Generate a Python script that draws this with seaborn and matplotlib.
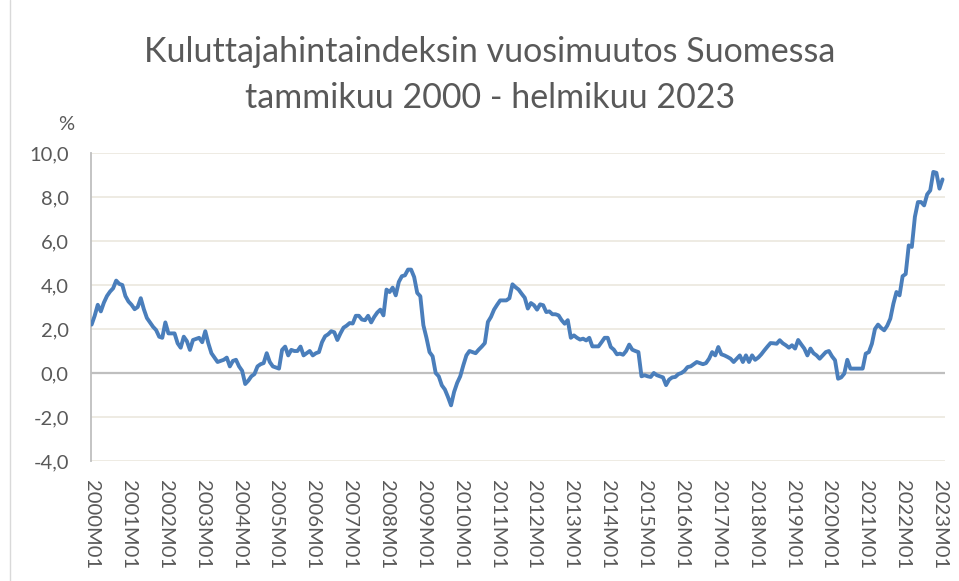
import numpy as np
import pandas as pd
import matplotlib.pyplot as plt
import seaborn as sns
from matplotlib.lines import Line2D

# Kuluttajahintaindeksin vuosimuutos (%), kuukausittain
y2000 = [2.2, 2.6, 3.1, 2.8, 3.2, 3.5, 3.7, 3.85, 4.2, 4.05, 4.0, 3.5]
y2001 = [3.25, 3.1, 2.9, 3.0, 3.4, 2.9, 2.5, 2.3, 2.1, 1.95, 1.65, 1.6]
y2002 = [2.3, 1.8, 1.8, 1.8, 1.35, 1.15, 1.65, 1.45, 1.05, 1.5, 1.55, 1.6]
y2003 = [1.4, 1.9, 1.35, 0.9, 0.7, 0.5, 0.55, 0.6, 0.7, 0.3, 0.55, 0.6]
y2004 = [0.3, 0.1, -0.5, -0.35, -0.15, -0.05, 0.3, 0.4, 0.45, 0.9, 0.5, 0.3]
y2005 = [0.25, 0.2, 1.05, 1.2, 0.8, 1.05, 1.0, 1.0, 1.2, 0.8, 0.9, 1.0]
y2006 = [0.8, 0.9, 0.95, 1.4, 1.67, 1.76, 1.9, 1.85, 1.5, 1.8, 2.06, 2.15]
y2007 = [2.27, 2.25, 2.6, 2.6, 2.43, 2.4, 2.6, 2.3, 2.55, 2.75, 2.88, 2.62]
y2008 = [3.79, 3.68, 3.88, 3.53, 4.14, 4.4, 4.44, 4.7, 4.7, 4.36, 3.64, 3.49]
y2009 = [2.17, 1.6, 0.95, 0.76, 0.0, -0.15, -0.56, -0.75, -1.09, -1.47, -0.86, -0.45]
y2010 = [-0.15, 0.35, 0.8, 1.0, 0.95, 0.9, 1.06, 1.2, 1.36, 2.32, 2.55, 2.88]
y2011 = [3.1, 3.3, 3.3, 3.3, 3.4, 4.03, 3.9, 3.79, 3.6, 3.42, 2.93, 3.18]
y2012 = [3.08, 2.88, 3.12, 3.08, 2.77, 2.8, 2.67, 2.67, 2.62, 2.4, 2.24, 2.4]
y2013 = [1.6, 1.71, 1.6, 1.52, 1.56, 1.48, 1.6, 1.21, 1.21, 1.21, 1.4, 1.6]
y2014 = [1.6, 1.18, 1.06, 0.85, 0.88, 0.83, 1.0, 1.29, 1.06, 1.0, 0.95, -0.15]
y2015 = [-0.1, -0.15, -0.18, 0.0, -0.1, -0.15, -0.2, -0.55, -0.3, -0.2, -0.18, -0.05]
y2016 = [0.0, 0.1, 0.27, 0.3, 0.4, 0.5, 0.45, 0.4, 0.45, 0.65, 0.95, 0.8]
y2017 = [1.18, 0.85, 0.8, 0.73, 0.65, 0.5, 0.65, 0.8, 0.5, 0.8, 0.5, 0.8]
y2018 = [0.6, 0.7, 0.85, 1.03, 1.2, 1.36, 1.35, 1.33, 1.49, 1.35, 1.26, 1.15]
y2019 = [1.26, 1.11, 1.5, 1.3, 1.11, 0.8, 1.11, 0.9, 0.8, 0.65, 0.8, 0.95]
y2020 = [1.0, 0.76, 0.58, -0.26, -0.2, -0.03, 0.6, 0.2, 0.2, 0.2, 0.2, 0.2]
y2021 = [0.88, 0.95, 1.33, 2.0, 2.2, 2.05, 1.94, 2.15, 2.47, 3.15, 3.68, 3.53]
y2022 = [4.4, 4.5, 5.8, 5.73, 7.1, 7.77, 7.77, 7.62, 8.12, 8.3, 9.14, 9.1]
y2023 = [8.38, 8.8]

values = (y2000 + y2001 + y2002 + y2003 + y2004 + y2005 + y2006 + y2007
          + y2008 + y2009 + y2010 + y2011 + y2012 + y2013 + y2014 + y2015
          + y2016 + y2017 + y2018 + y2019 + y2020 + y2021 + y2022 + y2023)
months = [f"{y}M{m:02d}" for y in range(2000, 2024) for m in range(1, 13)][:len(values)]

df = pd.DataFrame({"kuukausi": months, "muutos": values})
df["t"] = np.arange(len(df))

TXT = "#595959"

sns.set_theme(style="white")
plt.rcParams['font.family'] = ['Lato', 'DejaVu Sans']

fig = plt.figure(figsize=(9.59, 5.81), dpi=100)
ax = fig.add_axes([91 / 959, 120 / 581, 854 / 959, 308 / 581])

ax.axhline(0, color="#BFBFBF", lw=1.6, zorder=1)
sns.lineplot(data=df, x="t", y="muutos", ax=ax, color="#4A7EBB", linewidth=2.8, zorder=3)

ax.set_xlim(-0.2, 277.8)
ax.set_ylim(-4, 10)
yt = np.arange(-4, 11, 2)
ax.set_yticks(yt)
ax.set_yticklabels([f"{v:.1f}".replace(".", ",") for v in yt])
jan = df.index[df["kuukausi"].str.endswith("M01")]
ax.set_xticks(jan)
ax.set_xticklabels(df.loc[jan, "kuukausi"], rotation=-90, va="top", ha="center")
ax.tick_params(axis="x", length=0, pad=14, labelsize=14.5, colors=TXT)
ax.tick_params(axis="y", length=0, pad=16, labelsize=14.5, colors=TXT)
ax.yaxis.grid(True, color="#EDE9E0", lw=1.3)
ax.set_axisbelow(True)
for s in ["top", "right", "bottom"]:
    ax.spines[s].set_visible(False)
ax.spines["left"].set_color("#BFBFBF")
ax.spines["left"].set_linewidth(1.3)
ax.set_xlabel("")
ax.set_ylabel("")

fig.text(66 / 959, 1 - 124 / 581, "%", ha="center", va="center", fontsize=14.5, color=TXT)
fig.text(490 / 959, 1 - 52 / 581, "Kuluttajahintaindeksin vuosimuutos Suomessa",
         ha="center", va="center", fontsize=24.5, color=TXT)
fig.text(490 / 959, 1 - 98 / 581, "tammikuu 2000 - helmikuu 2023",
         ha="center", va="center", fontsize=24.5, color=TXT)

fig.add_artist(Line2D([10 / 959, 10 / 959], [0, 1], transform=fig.transFigure,
                      color="#D9D9D9", lw=1))

fig.savefig("out.png", dpi=100)
